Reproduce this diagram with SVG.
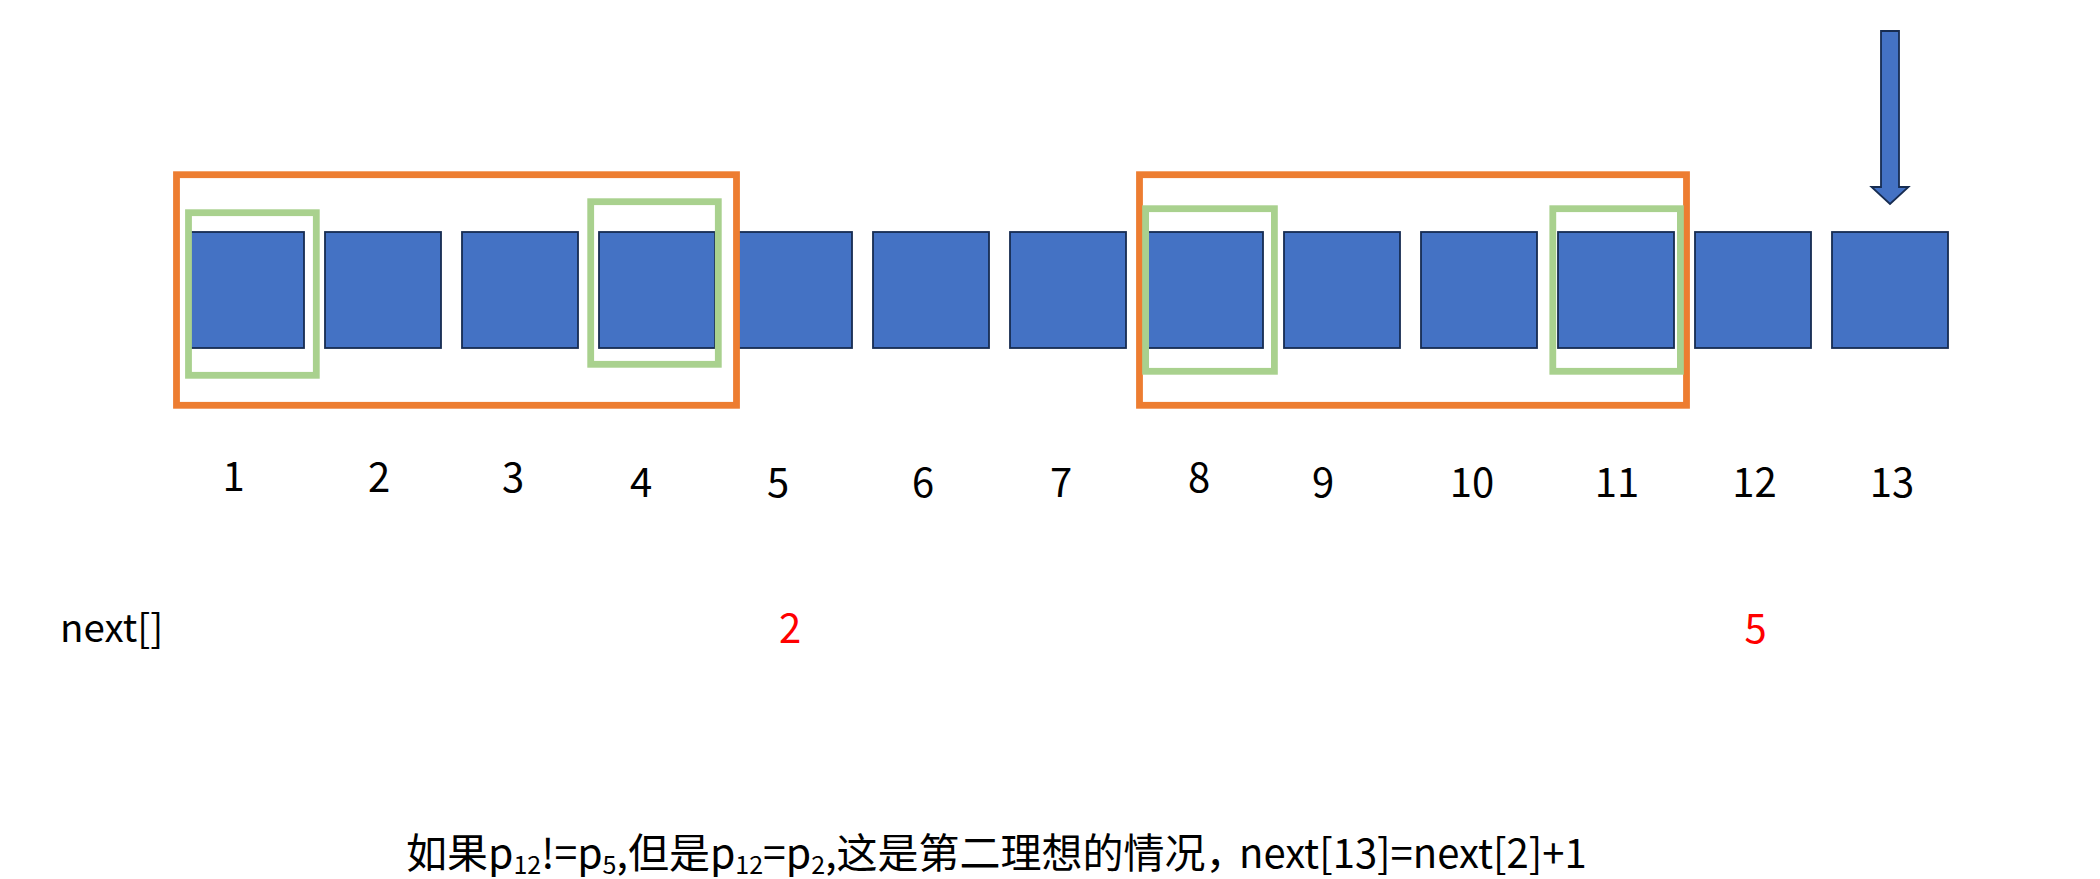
<svg xmlns="http://www.w3.org/2000/svg" width="2100" height="879" viewBox="0 0 2100 879">
  <style>
    .cell { fill: #4472C4; stroke: #172C51; stroke-width: 1.8; }
    .orange { fill: none; stroke: #ED7D31; stroke-width: 6.8; }
    .green { fill: none; stroke: #A9D18E; stroke-width: 6.8; }
    .lbl { font-family: "Noto Sans CJK SC", "Liberation Sans", sans-serif; font-size: 40px; fill: #000; text-anchor: middle; }
    .red { fill: #FF0000; }
    .txt { font-family: "Noto Sans CJK SC", "Liberation Sans", sans-serif; font-size: 41px; fill: #000; }
    .sub { font-size: 25px; }
  </style>
  <rect width="2100" height="879" fill="#FFFFFF"/>

  <g id="cells">
    <rect id="cell1" class="cell" x="188" y="232" width="116" height="116"/>
    <rect id="cell2" class="cell" x="325" y="232" width="116" height="116"/>
    <rect id="cell3" class="cell" x="462" y="232" width="116" height="116"/>
    <rect id="cell4" class="cell" x="599" y="232" width="116" height="116"/>
    <rect id="cell5" class="cell" x="736" y="232" width="116" height="116"/>
    <rect id="cell6" class="cell" x="873" y="232" width="116" height="116"/>
    <rect id="cell7" class="cell" x="1010" y="232" width="116" height="116"/>
    <rect id="cell8" class="cell" x="1147" y="232" width="116" height="116"/>
    <rect id="cell9" class="cell" x="1284" y="232" width="116" height="116"/>
    <rect id="cell10" class="cell" x="1421" y="232" width="116" height="116"/>
    <rect id="cell11" class="cell" x="1558" y="232" width="116" height="116"/>
    <rect id="cell12" class="cell" x="1695" y="232" width="116" height="116"/>
    <rect id="cell13" class="cell" x="1832" y="232" width="116" height="116"/>
  </g>

  <g id="orange-boxes">
    <rect id="orange1" class="orange" x="176.5" y="174.7" width="560" height="230.6"/>
    <rect id="orange2" class="orange" x="1139.5" y="174.7" width="547" height="230.6"/>
  </g>

  <g id="green-boxes">
    <rect id="green1" class="green" x="188.5" y="212.7" width="127.8" height="162.6"/>
    <rect id="green2" class="green" x="590.7" y="201.7" width="127.6" height="162.6"/>
    <rect id="green3" class="green" x="1145.6" y="208.7" width="128.8" height="162.6"/>
    <rect id="green4" class="green" x="1552.8" y="208.7" width="127.6" height="162.6"/>
  </g>

  <g id="pointer">
    <polygon class="cell" stroke-width="1.5" points="1881,31 1899,31 1899,187 1908.5,187 1890,204 1871.5,187 1881,187"/>
  </g>

  <g id="labels">
    <text class="lbl" x="233.5" y="491">1</text>
    <text class="lbl" x="379" y="491.5">2</text>
    <text class="lbl" x="513" y="492">3</text>
    <text class="lbl" x="641" y="497">4</text>
    <text class="lbl" x="778" y="497">5</text>
    <text class="lbl" x="923" y="497">6</text>
    <text class="lbl" x="1061" y="497">7</text>
    <text class="lbl" x="1199" y="492">8</text>
    <text class="lbl" x="1323" y="497">9</text>
    <text class="lbl" x="1472" y="497">10</text>
    <text class="lbl" x="1617" y="497">11</text>
    <text class="lbl" x="1754.5" y="497">12</text>
    <text class="lbl" x="1892" y="497">13</text>
  </g>

  <g id="next-row">
    <text class="lbl" x="60" y="642" style="text-anchor:start;font-size:38.5px">next[]</text>
    <text class="lbl red" x="790" y="643">2</text>
    <text class="lbl red" x="1755.5" y="643">5</text>
  </g>

  <g id="caption">
    <text class="txt" x="406" y="868">如果p<tspan class="sub" dy="6">12</tspan><tspan dy="-6">!=p</tspan><tspan class="sub" dy="6">5</tspan><tspan dy="-6">,但是p</tspan><tspan class="sub" dy="6">12</tspan><tspan dy="-6">=p</tspan><tspan class="sub" dy="6">2</tspan><tspan dy="-6">,这是第二理想的情况，</tspan><tspan x="1239" style="font-size:40px">next[13]=next[2]+1</tspan></text>
  </g>
</svg>
